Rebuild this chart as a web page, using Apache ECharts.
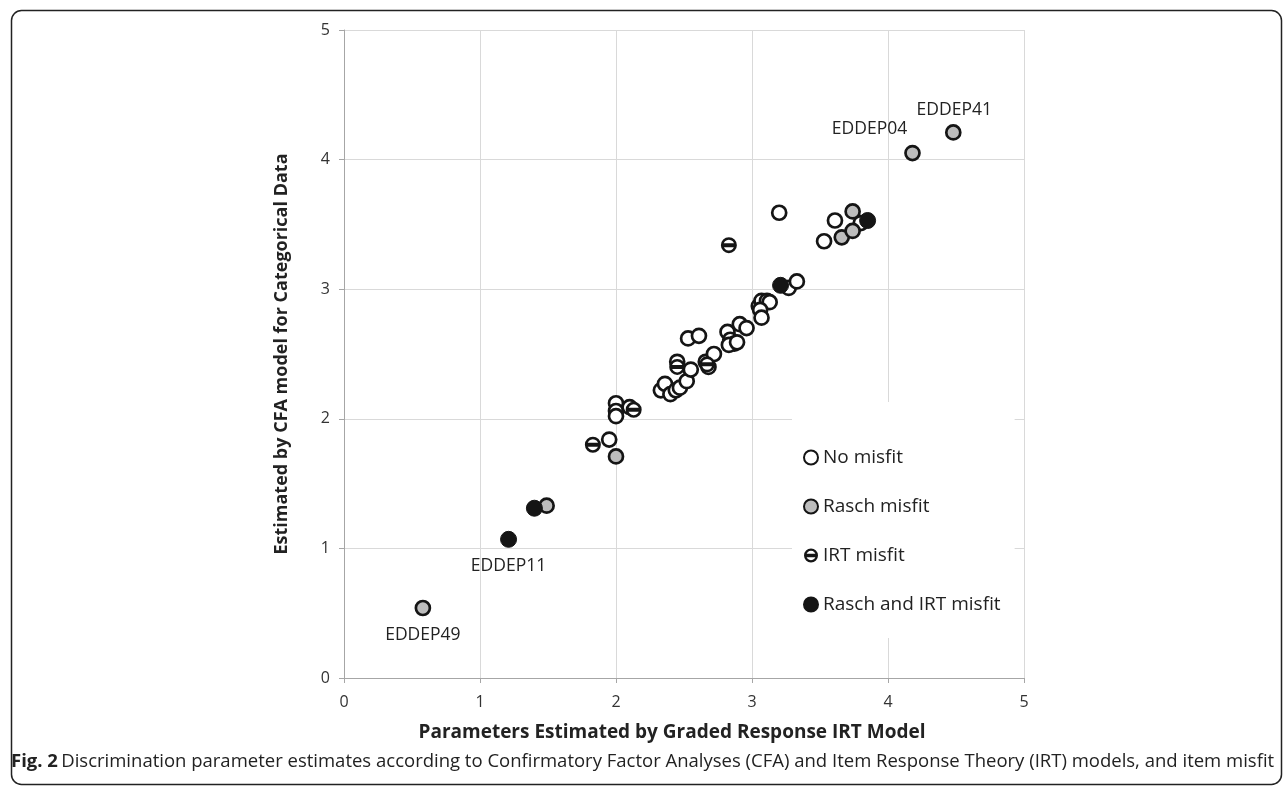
<!DOCTYPE html>
<html><head><meta charset="utf-8">
<script src="https://cdn.jsdelivr.net/npm/echarts@6/dist/echarts.min.js"></script>
<style>html,body{margin:0;padding:0;background:#fff;}#c{width:1287px;height:786px;}</style>
</head><body><div id="c"></div>
<script>
// Data (x = Graded Response IRT estimate, y = CFA estimate)
const noMisfit = [
  [1.95,1.84],
  [2.00,2.12],[2.00,2.06],[2.00,2.02],
  [2.10,2.09],
  [2.33,2.22],[2.36,2.27],[2.40,2.19],[2.44,2.22],[2.47,2.24],[2.52,2.29],
  [2.45,2.44],[2.55,2.38],
  [2.53,2.62],[2.61,2.64],
  [2.66,2.44],[2.68,2.40],[2.72,2.50],
  [2.82,2.67],[2.84,2.61],[2.87,2.58],[2.83,2.57],[2.89,2.59],
  [2.91,2.73],[2.96,2.70],
  [3.05,2.87],[3.07,2.91],[3.11,2.91],[3.13,2.90],[3.06,2.84],[3.07,2.78],
  [3.27,3.01],[3.33,3.06],
  [3.20,3.59],[3.53,3.37],[3.61,3.53],[3.80,3.51]
];
const raschMisfit = [[0.58,0.54],[1.49,1.33],[2.00,1.71],[3.66,3.40],[3.74,3.45],[3.74,3.60],[4.18,4.05],[4.48,4.21]];
const irtMisfit = [[1.83,1.80],[2.13,2.07],[2.45,2.40],[2.67,2.42],[2.83,3.34]];
const bothMisfit = [[1.21,1.07],[1.40,1.31],[3.21,3.03],[3.85,3.53]];
const raschNames = ['EDDEP49','','','','','','EDDEP04','EDDEP41'];
const bothNames = ['EDDEP11','','',''];
const xTicks = [0,1,2,3,4,5];
const yTicks = [0,1,2,3,4,5];

const labelOffsets = {EDDEP49:[0,27], EDDEP04:[-43,-24], EDDEP41:[1,-22], EDDEP11:[0,27]};
function withLabels(pts, names){
  return pts.map((p,i)=>{
    const n = names[i];
    if(!n) return {value:p};
    return {value:p, name:n, label:{show:true, formatter:n, position:'inside', offset:labelOffsets[n],
      fontFamily:'Open Sans', fontSize:17.5, color:'#222'}};
  });
}
const irtPath = 'path://M0,-10 A10,10 0 1,1 0,10 A10,10 0 1,1 0,-10 Z M0,-6.8 A6.8,6.8 0 1,0 0,6.8 A6.8,6.8 0 1,0 0,-6.8 Z M-8,-2.5 L8,-2.5 L8,2.5 L-8,2.5 Z';

const chart = echarts.init(document.getElementById('c'));
chart.setOption({
  backgroundColor:'#fff',
  animation:false,
  textStyle:{fontFamily:'Open Sans'},
  grid:{left:344, right:263, top:30, bottom:108},
  xAxis:{type:'value', min:0, max:5, interval:1,
    name:'Parameters Estimated by Graded Response IRT Model', nameLocation:'middle', nameGap:45,
    nameTextStyle:{fontFamily:'Open Sans', fontWeight:'bold', fontSize:19, color:'#222', padding:[0,24,0,0]},
    axisLine:{show:true, lineStyle:{color:'#a6a6a6', width:1}},
    axisTick:{show:true, length:5, lineStyle:{color:'#a6a6a6'}},
    axisLabel:{fontSize:16, color:'#333', margin:16, formatter:v=>xTicks.includes(v)?String(v):''},
    splitLine:{show:true, lineStyle:{color:'#d9d9d9', width:1}}
  },
  yAxis:{type:'value', min:0, max:5, interval:1,
    name:'Estimated by CFA model for Categorical Data', nameLocation:'middle', nameGap:53,
    nameTextStyle:{fontFamily:'Open Sans', fontWeight:'bold', fontSize:18, color:'#222'},
    axisLine:{show:true, lineStyle:{color:'#a6a6a6', width:1}},
    axisTick:{show:true, length:5, lineStyle:{color:'#a6a6a6'}},
    axisLabel:{fontSize:16, color:'#333', margin:14, formatter:v=>yTicks.includes(v)?String(v):''},
    splitLine:{show:true, lineStyle:{color:'#d9d9d9', width:1}}
  },
  legend:{orient:'vertical', left:792, top:402, itemGap:30, itemWidth:14, itemHeight:14,
    backgroundColor:'#fff', padding:[46,14,24,11],
    data:['No misfit','Rasch misfit','IRT misfit','Rasch and IRT misfit'],
    textStyle:{fontFamily:'Open Sans', fontSize:19, color:'#222'}
  },
  series:[
    {name:'No misfit', type:'scatter', data:noMisfit, symbol:'circle', symbolSize:14,
      itemStyle:{color:'#fff', borderColor:'#151515', borderWidth:2.7, opacity:1}},
    {name:'Rasch misfit', type:'scatter', data:withLabels(raschMisfit, raschNames), symbol:'circle', symbolSize:14,
      itemStyle:{color:'#bdbdbd', borderColor:'#151515', borderWidth:2.7, opacity:1}},
    {name:'irt-bg', type:'scatter', data:irtMisfit, symbol:'circle', symbolSize:13, silent:true,
      itemStyle:{color:'#fff', borderWidth:0, opacity:1}},
    {name:'IRT misfit', type:'scatter', data:irtMisfit, symbol:irtPath, symbolSize:16,
      itemStyle:{color:'#151515', borderWidth:0, opacity:1}},
    {name:'Rasch and IRT misfit', type:'scatter', data:withLabels(bothMisfit, bothNames), symbol:'circle', symbolSize:16,
      itemStyle:{color:'#151515', borderColor:'#151515', borderWidth:1, opacity:1}}
  ],
  graphic:[
    {type:'rect', left:9, top:8, shape:{width:1270, height:774, r:10}, silent:true, z:-1,
      style:{fill:'none', stroke:'#222', lineWidth:1.5}},
    {type:'text', left:11, top:752, silent:true,
      style:{rich:{b:{fontFamily:'Open Sans', fontWeight:'bold', fontSize:18.5, fill:'#222'},
                   n:{fontFamily:'Open Sans', fontSize:18.5, fill:'#222'}},
        text:'{b|Fig. 2} {n|Discrimination parameter estimates according to Confirmatory Factor Analyses (CFA) and Item Response Theory (IRT) models, and item misfit}'}}
  ]
});
</script></body></html>
